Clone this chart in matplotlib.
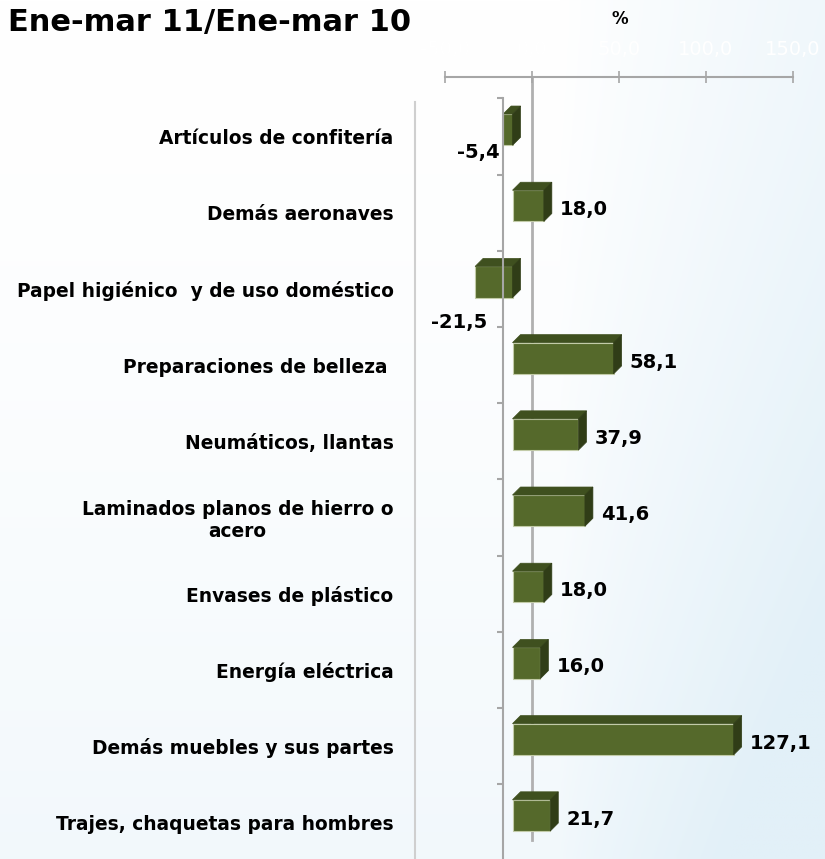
import numpy as np
import matplotlib
matplotlib.use("Agg")
import matplotlib.pyplot as plt
from matplotlib.patches import Polygon

# ---------------- data ----------------
categories = [
    "Artículos de confitería",
    "Demás aeronaves",
    "Papel higiénico  y de uso doméstico",
    "Preparaciones de belleza ",
    "Neumáticos, llantas",
    "Laminados planos de hierro o\nacero",
    "Envases de plástico",
    "Energía eléctrica",
    "Demás muebles y sus partes",
    "Trajes, chaquetas para hombres",
]
values = [-5.4, 18.0, -21.5, 58.1, 37.9, 41.6, 18.0, 16.0, 127.1, 21.7]
x_ticks = [-50, 0, 50, 100, 150]
x_tick_labels = ["-50,0", "0,0", "50,0", "100,0", "150,0"]
title = "Ene-mar 11/Ene-mar 10"
unit_label = "%"

# ---------------- style ----------------
W, H = 825, 859
FRONT = "#55692b"
TOP = "#3f501f"
SIDE = "#303d17"
EDGE = "#c2cba8"
AXIS_GRAY = "#a6a6a6"
FONT = "DejaVu Sans"

FRONT_X0 = -11.2      # front plane zero (3-D offset), data units
DEPTH_DX = 4.6        # depth in x, data units
DEPTH_DY = 0.105      # depth in y, category units
BAR_H = 0.41
BAR_SHIFT = 0.09
CAT_AXIS_X = -16.7
FRAME_X = -67.5
NEG_LABEL_OFFSETS = {0: (-3, -16), 2: (12, -34)}   # pixels

fig = plt.figure(figsize=(W / 100, H / 100), dpi=100)

def fx(px):
    return px / W

def fy(py):
    return 1 - py / H

# background gradient
bg = fig.add_axes([0, 0, 1, 1], zorder=0)
xx, yy = np.meshgrid(np.linspace(0, 1, 300), np.linspace(0, 1, 300))
t = np.clip(0.8 * np.clip((xx - 0.68) / 0.32, 0, 1) ** 0.8 * (0.65 + 0.35 * yy)
            + 0.45 * yy ** 1.6, 0, 1)
c0 = np.array([1.0, 1.0, 1.0])
c1 = np.array([0xe2, 0xf0, 0xf8]) / 255
img = c0[None, None, :] * (1 - t[..., None]) + c1[None, None, :] * t[..., None]
bg.imshow(img, extent=[0, 1, 0, 1], aspect="auto", origin="upper")
bg.set_xlim(0, 1)
bg.set_ylim(0, 1)
bg.axis("off")

ax = fig.add_axes([fx(445), fy(859), (793 - 445) / W, (859 - 77) / H], zorder=1)
ax.set_facecolor("none")
ax.set_xlim(-50, 150)
n = len(categories)
ax.set_ylim(9.482, -0.781)

for s in ["left", "right", "bottom"]:
    ax.spines[s].set_visible(False)
ax.spines["top"].set_color(AXIS_GRAY)
ax.spines["top"].set_linewidth(1.5)
ax.xaxis.tick_top()
ax.set_xticks(x_ticks)
ax.set_xticklabels(x_tick_labels, color="white", fontsize=14, family=FONT)
ax.tick_params(axis="x", direction="inout", length=8, width=1.2,
               color=AXIS_GRAY, pad=9)

ypos = np.arange(n)
ax.set_yticks(ypos)
ax.set_yticklabels(categories, fontsize=13.4, fontweight="bold", family=FONT)
ax.tick_params(axis="y", length=0, pad=37)
for lab in ax.get_yticklabels():
    lab.set_multialignment("center")

# back zero line
ax.axvline(0, ymin=(9.482 - 9.23) / (9.482 + 0.781), ymax=1, color="#b0b0b0",
           lw=2, zorder=1)
# category (front) axis with ticks
ytop_frac = (9.482 - (-0.5)) / (9.482 + 0.781)
ax.axvline(CAT_AXIS_X, ymin=0, ymax=ytop_frac, color=AXIS_GRAY, lw=1.5, zorder=5)
ax.hlines(np.arange(n + 1) - 0.5, CAT_AXIS_X - 3.6, CAT_AXIS_X,
          color=AXIS_GRAY, lw=1.5, zorder=5)
# left frame line
ax.axvline(FRAME_X, ymin=0, ymax=(9.482 + 0.45) / (9.482 + 0.781),
           color="#cfcfcf", lw=1.5, clip_on=False, zorder=1)

# bars (front face)
yc = ypos - BAR_SHIFT
ax.barh(yc, values, left=FRONT_X0, height=BAR_H, color=FRONT,
        edgecolor=EDGE, linewidth=0.8, zorder=3)
for y, v in zip(yc, values):
    x_l = FRONT_X0 + min(v, 0)
    x_r = FRONT_X0 + max(v, 0)
    yt = y - BAR_H / 2
    yb = y + BAR_H / 2
    top = Polygon([(x_l, yt), (x_r, yt), (x_r + DEPTH_DX, yt - DEPTH_DY),
                   (x_l + DEPTH_DX, yt - DEPTH_DY)], closed=True,
                  facecolor=TOP, edgecolor=TOP, lw=0.5, zorder=3)
    side = Polygon([(x_r, yt), (x_r, yb), (x_r + DEPTH_DX, yb - DEPTH_DY),
                    (x_r + DEPTH_DX, yt - DEPTH_DY)], closed=True,
                   facecolor=SIDE, edgecolor=SIDE, lw=0.5, zorder=3)
    ax.add_patch(top)
    ax.add_patch(side)

# value labels
for i, v in enumerate(values):
    txt = f"{v:.1f}".replace(".", ",")
    if v >= 0:
        ax.annotate(txt, (FRONT_X0 + v, ypos[i]), xytext=(16, 3),
                    textcoords="offset pixels", ha="left", va="center",
                    fontsize=14, fontweight="bold", family=FONT, zorder=6)
    else:
        dx, dy = NEG_LABEL_OFFSETS.get(i, (-3, -16))
        ax.annotate(txt, (FRONT_X0 + v, ypos[i]), xytext=(dx, dy),
                    textcoords="offset pixels", ha="right", va="center",
                    fontsize=14, fontweight="bold", family=FONT, zorder=6)

fig.text(fx(8), fy(23), title, ha="left", va="center", fontsize=22,
         fontweight="bold", family=FONT)
fig.text(fx(620), fy(19), unit_label, ha="center", va="center", fontsize=12,
         fontweight="bold", family=FONT)

fig.savefig("out.png", dpi=100)
